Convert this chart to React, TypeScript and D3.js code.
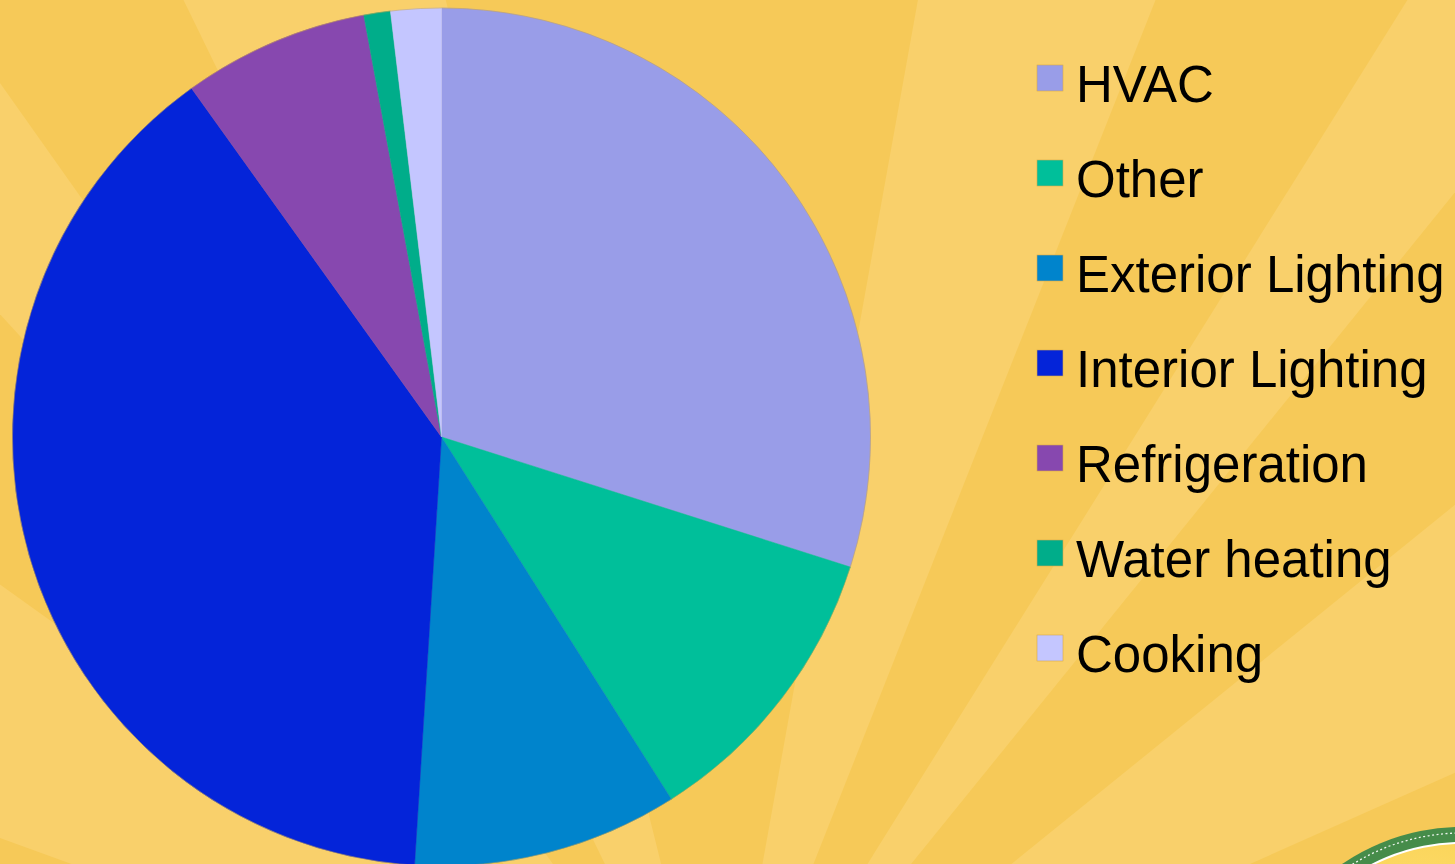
import React from "react";
import * as d3 from "d3";

const categories = ["HVAC", "Other", "Exterior Lighting", "Interior Lighting", "Refrigeration", "Water heating", "Cooking"];
const shares = [29.9, 11.1, 10.0, 39.1, 7.0, 1.0, 1.9];
const colors = ["#999DE8", "#00BF9A", "#0084CC", "#0424D9", "#8748AF", "#00AD8A", "#C4C6FF"];

// background sunburst light rays (degrees, clockwise from up)
const rayStarts = [-70, -42.5, -26, 10.2, 32, 51];
const rayEnds = [-54.4, -35.3, -14, 21.6, 39, 66];

const W = 1455;
const H = 864;

export default function App() {
  const cx = 441.5, cy = 437, R = 429;
  const pie = d3.pie<number>().sort(null).value((d) => d)(shares);
  const arc = d3.arc<d3.PieArcDatum<number>>().innerRadius(0).outerRadius(R);
  const rayArc = d3.arc<any>().innerRadius(0).outerRadius(3000);
  const toRad = (d: number) => (d * Math.PI) / 180;
  const legendX = 1037, legendY = 65, legendStep = 95;

  return (
    <svg width={W} height={H} style={{ position: "absolute", left: 0, top: 0 }}>
      <defs>
        <radialGradient id="logoFill" cx="0.4" cy="0.3" r="0.7">
          <stop offset="0" stopColor="#FFE27A" />
          <stop offset="1" stopColor="#F5C534" />
        </radialGradient>
      </defs>
      <rect x={0} y={0} width={W} height={H} fill="#F6C958" />
      <g transform="translate(720,1100)">
        {rayStarts.map((s, i) => (
          <path key={i} d={rayArc({ startAngle: toRad(s), endAngle: toRad(rayEnds[i]) }) || ""} fill="#F9D06B" />
        ))}
      </g>
      <g transform={`translate(${cx},${cy})`}>
        {pie.map((p, i) => (
          <path key={i} d={arc(p) || ""} fill={colors[i]} stroke={colors[i]} strokeWidth={0.5} />
        ))}
        <circle r={R} fill="none" stroke="#C9A24A" strokeWidth={0.8} opacity={0.6} />
      </g>
      <g>
        {categories.map((c, i) => (
          <g key={c} transform={`translate(${legendX},${legendY + i * legendStep})`}>
            <rect x={0} y={0} width={26} height={26} fill={colors[i]} stroke="#D8A94A" strokeWidth={0.6} />
            <text x={39} y={37} fontFamily="'Liberation Sans', Arial, sans-serif" fontSize={51} fill="#000">
              {c}
            </text>
          </g>
        ))}
      </g>
      <g transform="translate(1462,1040)">
        <circle r={213} fill="#468C4A" />
        <circle r={207} fill="none" stroke="#FFFFFF" strokeWidth={1.3} strokeDasharray="2 2.5" opacity={0.9} />
        <circle r={198} fill="#FFFFFF" />
        <circle r={196} fill="url(#logoFill)" />
      </g>
    </svg>
  );
}
